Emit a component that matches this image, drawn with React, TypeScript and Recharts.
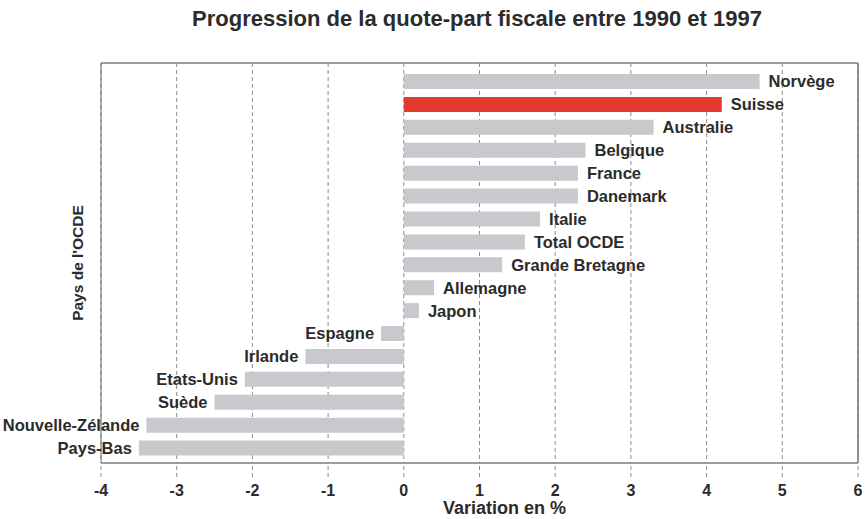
import { BarChart, Bar, XAxis, YAxis, CartesianGrid, Cell, LabelList } from "recharts"

const countries = [
  "Norvège",
  "Suisse",
  "Australie",
  "Belgique",
  "France",
  "Danemark",
  "Italie",
  "Total OCDE",
  "Grande Bretagne",
  "Allemagne",
  "Japon",
  "Espagne",
  "Irlande",
  "Etats-Unis",
  "Suède",
  "Nouvelle-Zélande",
  "Pays-Bas",
]

const values = [4.7, 4.2, 3.3, 2.4, 2.3, 2.3, 1.8, 1.6, 1.3, 0.4, 0.2, -0.3, -1.3, -2.1, -2.5, -3.4, -3.5]

const xTicks = [-4, -3, -2, -1, 0, 1, 2, 3, 4, 5, 6]
const highlight = "Suisse"

const data = countries.map((name, i) => ({ name, value: values[i] }))

const sans = "'Liberation Sans', Arial, Helvetica, sans-serif"
const textColor = "#2b2b2b"
const frame = "#7d7d7d"
const grid = "#8c8c8c"

function BarLabel(props: any) {
  const { x, y, width, height, value } = props
  const row = data.find((d) => d.name === value)
  const neg = row ? row.value < 0 : false
  const left = Math.min(x, x + width)
  const right = Math.max(x, x + width)
  return (
    <text
      x={neg ? left - 7 : right + 9}
      y={y + height / 2}
      dy="0.36em"
      textAnchor={neg ? "end" : "start"}
      fill={textColor}
      fontSize={16.5}
      fontWeight="bold"
      fontFamily={sans}
    >
      {value}
    </text>
  )
}

// empty tick so only the dashed tick lines show above the top frame
const NoTick = () => <g />

export default function App() {
  return (
    <div style={{ position: "absolute", left: 0, top: 0, width: 866, height: 519, background: "#fff" }}>
      <div
        style={{
          position: "absolute",
          top: 6,
          left: 88,
          right: 0,
          textAlign: "center",
          fontFamily: sans,
          fontWeight: "bold",
          fontSize: 22,
          color: textColor,
          whiteSpace: "nowrap",
        }}
      >
        Progression de la quote-part fiscale entre 1990 et 1997
      </div>
      <BarChart
        width={866}
        height={519}
        data={data}
        layout="vertical"
        margin={{ top: 62, right: 7, bottom: 0, left: 100 }}
        barSize={15}
      >
        <CartesianGrid horizontal={false} stroke={grid} strokeDasharray="4 3" />
        <XAxis
          type="number"
          domain={[-4, 6]}
          ticks={xTicks}
          interval={0}
          height={56}
          tickSize={14}
          tickMargin={8}
          axisLine={{ stroke: frame, strokeWidth: 1.6 }}
          tickLine={{ stroke: grid, strokeDasharray: "4 3" }}
          tick={{ fill: textColor, fontSize: 16, fontFamily: sans, fontWeight: "bold" }}
          label={{
            value: "Variation en %",
            position: "insideBottom",
            offset: 5,
            dx: 25,
            fill: textColor,
            fontSize: 18,
            fontFamily: sans,
            fontWeight: "bold",
          }}
        />
        <XAxis
          xAxisId="top"
          orientation="top"
          type="number"
          domain={[-4, 6]}
          ticks={xTicks}
          interval={0}
          height={1}
          tickSize={5}
          tick={NoTick}
          axisLine={{ stroke: frame, strokeWidth: 1.6 }}
          tickLine={{ stroke: grid, strokeDasharray: "4 3" }}
        />
        <YAxis
          type="category"
          dataKey="name"
          width={1}
          tick={false}
          tickLine={false}
          padding={{ top: 7, bottom: 3.5 }}
          axisLine={{ stroke: frame, strokeWidth: 1.2 }}
          label={{
            value: "Pays de l'OCDE",
            angle: -90,
            position: "center",
            dx: -23,
            fill: textColor,
            fontSize: 15.5,
            fontFamily: sans,
            fontWeight: "bold",
          }}
        />
        <YAxis
          yAxisId="r"
          orientation="right"
          type="category"
          dataKey="name"
          width={1}
          tick={false}
          tickLine={false}
          axisLine={{ stroke: frame, strokeWidth: 1.6 }}
        />
        <Bar dataKey="value" fill="#c9c9cd" isAnimationActive={false}>
          {data.map((d) => (
            <Cell key={d.name} fill={d.name === highlight ? "#e1392d" : "#c9c9cd"} />
          ))}
          <LabelList dataKey="name" content={BarLabel} />
        </Bar>
      </BarChart>
    </div>
  )
}
